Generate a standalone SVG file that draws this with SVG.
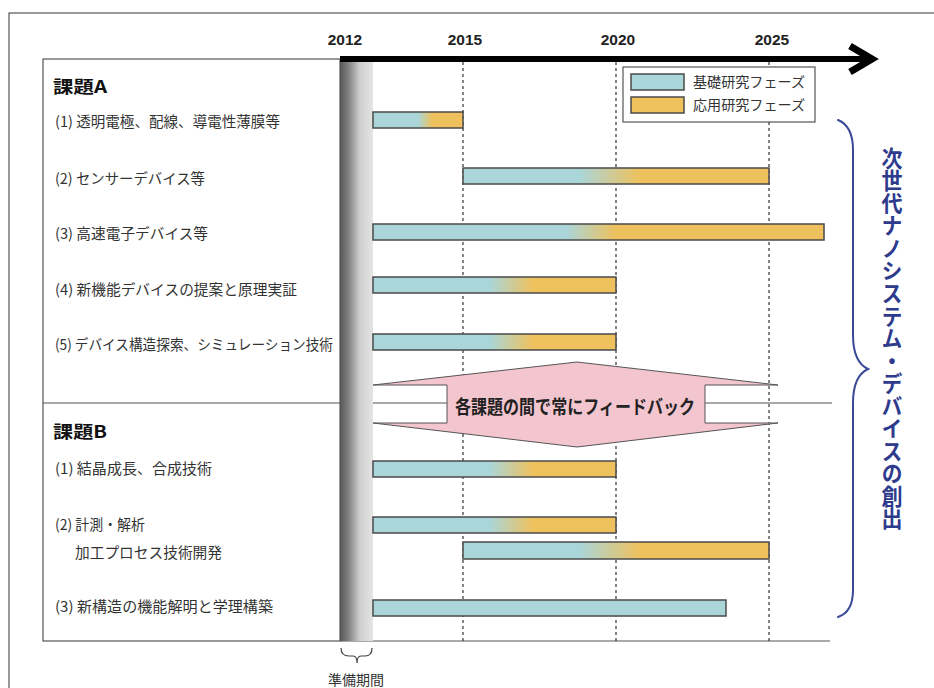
<svg xmlns="http://www.w3.org/2000/svg" width="934" height="688" viewBox="0 0 934 688">
<style>
.jp{font-family:"Noto Sans CJK JP","Noto Sans",sans-serif;}
.item{font-size:14.5px;fill:#333;}
.head{font-size:17px;font-weight:bold;fill:#111;}
.yr{font-family:"Liberation Sans",Arial,sans-serif;font-size:15.5px;font-weight:bold;fill:#222;text-anchor:middle;}
.frame{fill:none;stroke:#555;stroke-width:1.2;}
.dash{stroke:#333;stroke-width:1.2;stroke-dasharray:3 3;}
.bar{stroke:#4a4a4a;stroke-width:1.5;}
.brace{fill:none;stroke:#3a4898;stroke-width:2;stroke-linecap:round;}
</style>
<defs>
<linearGradient id="band" x1="0" y1="0" x2="1" y2="0">
<stop offset="0" stop-color="#555"/>
<stop offset="0.3" stop-color="#8a8a8a"/>
<stop offset="0.6" stop-color="#cfcfcf"/>
<stop offset="1" stop-color="#e4e4e4"/>
</linearGradient>
<linearGradient id="g1" x1="0" y1="0" x2="1" y2="0"><stop offset="0.5" stop-color="#aad5d9"/><stop offset="0.66" stop-color="#efc15c"/></linearGradient>
<linearGradient id="g2" x1="0" y1="0" x2="1" y2="0"><stop offset="0.38" stop-color="#aad5d9"/><stop offset="0.58" stop-color="#efc15c"/></linearGradient>
<linearGradient id="g3" x1="0" y1="0" x2="1" y2="0"><stop offset="0.43" stop-color="#aad5d9"/><stop offset="0.54" stop-color="#efc15c"/></linearGradient>
<linearGradient id="g4" x1="0" y1="0" x2="1" y2="0"><stop offset="0.48" stop-color="#aad5d9"/><stop offset="0.66" stop-color="#efc15c"/></linearGradient>
</defs>
<rect width="934" height="688" fill="#fff"/>
<rect x="9" y="13" width="1000" height="1000" class="frame"/>

<g id="frame-box">
<rect x="43" y="59" width="297" height="582" class="frame"/>
<line x1="43" y1="403" x2="832" y2="403" class="frame"/>
<line x1="340" y1="641" x2="830" y2="641" class="frame"/>
<rect x="340" y="59" width="33" height="582" fill="url(#band)"/>
</g>

<g id="grid">
<line x1="463" y1="62" x2="463" y2="641" class="dash"/>
<line x1="616" y1="62" x2="616" y2="641" class="dash"/>
<line x1="769" y1="62" x2="769" y2="641" class="dash"/>
</g>

<g id="axis">
<line x1="340" y1="59" x2="870" y2="59" stroke="#000" stroke-width="6"/>
<polyline points="850,46 872,59 850,72" fill="none" stroke="#000" stroke-width="7" stroke-linejoin="miter"/>
<text class="yr" x="345" y="45">2012</text>
<text class="yr" x="465" y="45">2015</text>
<text class="yr" x="618" y="45">2020</text>
<text class="yr" x="772" y="45">2025</text>
</g>

<g id="legend">
<rect x="623" y="67" width="192" height="55" fill="#fff" stroke="#555" stroke-width="1.2"/>
<rect x="631" y="74" width="53" height="16" fill="#aad5d9" class="bar"/>
<rect x="631" y="97" width="53" height="16" fill="#efc15c" class="bar"/>
<text class="jp" x="693" y="87" font-size="14" fill="#333" textLength="112" lengthAdjust="spacingAndGlyphs">基礎研究フェーズ</text>
<text class="jp" x="693" y="110" font-size="14" fill="#333" textLength="112" lengthAdjust="spacingAndGlyphs">応用研究フェーズ</text>
</g>

<g id="topic-a">
<text class="jp head" x="53" y="93" textLength="54" lengthAdjust="spacingAndGlyphs">課題A</text>
</g>
<g id="a1">
<text class="jp item" x="55" y="127" textLength="225" lengthAdjust="spacingAndGlyphs">(1) 透明電極、配線、導電性薄膜等</text>
<rect x="373" y="112" width="90" height="16" fill="url(#g1)" class="bar"/>
</g>
<g id="a2">
<text class="jp item" x="55" y="184" textLength="150" lengthAdjust="spacingAndGlyphs">(2) センサーデバイス等</text>
<rect x="463" y="168" width="306" height="16" fill="url(#g2)" class="bar"/>
</g>
<g id="a3">
<text class="jp item" x="55" y="239" textLength="153" lengthAdjust="spacingAndGlyphs">(3) 高速電子デバイス等</text>
<rect x="373" y="224" width="451" height="16" fill="url(#g3)" class="bar"/>
</g>
<g id="a4">
<text class="jp item" x="55" y="295" textLength="242" lengthAdjust="spacingAndGlyphs">(4) 新機能デバイスの提案と原理実証</text>
<rect x="373" y="277" width="243" height="16" fill="url(#g4)" class="bar"/>
</g>
<g id="a5">
<text class="jp item" x="55" y="350" textLength="278" lengthAdjust="spacingAndGlyphs">(5) デバイス構造探索、シミュレーション技術</text>
<rect x="373" y="334" width="243" height="16" fill="url(#g4)" class="bar"/>
</g>

<g id="feedback">
<polygon points="447,385 373,385 577,362 778,385 705,385 705,423 778,423 577,447 373,423 447,423" fill="#f3c5ce" stroke="#555" stroke-width="1" stroke-linejoin="miter"/>
<text class="jp" x="455" y="414" font-size="19" font-weight="bold" fill="#222" textLength="240" lengthAdjust="spacingAndGlyphs">各課題の間で常にフィードバック</text>
</g>

<g id="topic-b">
<text class="jp head" x="53" y="438" textLength="54" lengthAdjust="spacingAndGlyphs">課題B</text>
</g>
<g id="b1">
<text class="jp item" x="55" y="474" textLength="157" lengthAdjust="spacingAndGlyphs">(1) 結晶成長、合成技術</text>
<rect x="373" y="461" width="243" height="16" fill="url(#g4)" class="bar"/>
</g>
<g id="b2">
<text class="jp item" x="55" y="530" textLength="90" lengthAdjust="spacingAndGlyphs">(2) 計測・解析</text>
<text class="jp item" x="75" y="558" textLength="147" lengthAdjust="spacingAndGlyphs">加工プロセス技術開発</text>
<rect x="373" y="517" width="243" height="16" fill="url(#g4)" class="bar"/>
<rect x="463" y="542" width="306" height="17" fill="url(#g2)" class="bar"/>
</g>
<g id="b3">
<text class="jp item" x="55" y="612" textLength="218" lengthAdjust="spacingAndGlyphs">(3) 新構造の機能解明と学理構築</text>
<rect x="373" y="600" width="353" height="16" fill="#aad5d9" class="bar"/>
</g>

<g id="prep">
<path d="M341,648 Q341,656 349,656 L353,656 Q357,656 357,663 Q357,656 361,656 L365,656 Q372,656 372,648" fill="none" stroke="#444" stroke-width="1.2"/>
<text class="jp" x="356" y="685" font-size="14" fill="#333" text-anchor="middle">準備期間</text>
</g>

<g id="goal">
<path class="brace" d="M838,120 Q853,126 853,150 L853,335 Q853,362 868,369 Q853,376 853,403 L853,590 Q853,612 838,617"/>
<text class="jp" x="892" y="147" font-size="21" font-weight="bold" fill="#2e3a8c" style="writing-mode:vertical-rl" textLength="383" lengthAdjust="spacingAndGlyphs">次世代ナノシステム・デバイスの創出</text>
</g>
</svg>
